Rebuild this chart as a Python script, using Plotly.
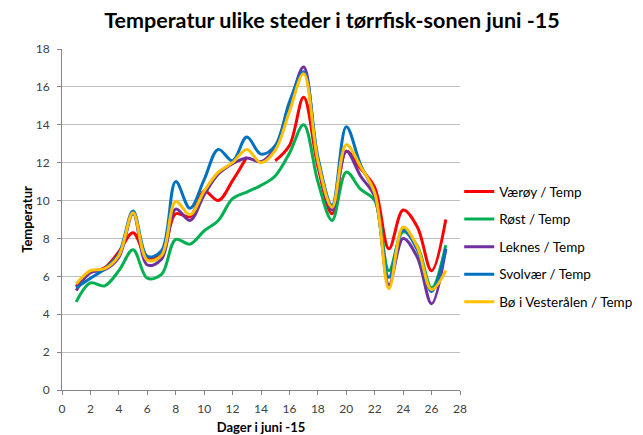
import plotly.graph_objects as go

days = list(range(1, 28))
vaeroy = [5.45, 6.2, 6.45, 7.3, 8.3, 7.0, 7.15, 9.3, 9.15, 10.5, 10.0, 11.05, 12.3, None,
          12.1, 12.9, 15.45, 11.8, 9.3, 12.6, 11.7, 10.7, 7.45, 9.5, 8.6, 6.3, 9.0]
rost = [4.65, 5.65, 5.5, 6.3, 7.4, 5.9, 6.1, 7.95, 7.7, 8.4, 8.95, 10.1, 10.45, 10.8,
        11.3, 12.5, 14.0, 11.0, 8.95, 11.5, 10.6, 10.0, 6.3, 8.35, 7.6, 5.4, 7.65]
leknes = [5.25, 6.2, 6.35, 7.0, 9.3, 6.6, 6.9, 9.55, 8.95, 10.3, 11.4, 11.95, 12.25, 12.05,
          12.8, 15.0, 17.05, 12.0, 9.5, 12.6, 11.3, 10.2, 5.55, 8.0, 7.0, 4.55, 7.45]
svolvaer = [5.4, 5.9, 6.4, 7.2, 9.45, 7.05, 7.35, 11.0, 9.6, 11.1, 12.7, 12.1, 13.35, 12.45,
            12.9, 15.2, 16.8, 12.3, 9.75, 13.9, 11.9, 10.35, 5.95, 8.45, 7.4, 5.2, 7.45]
bo = [5.6, 6.3, 6.4, 7.1, 9.35, 6.85, 7.1, 9.95, 9.25, 10.5, 11.5, 12.0, 12.7, 12.0,
      12.65, 14.7, 16.7, 12.1, 9.65, 12.95, 11.8, 10.4, 5.35, 8.6, 7.55, 5.3, 6.3]

series = [
    ("Værøy / Temp", vaeroy, "#FF0000"),
    ("Røst / Temp", rost, "#00B050"),
    ("Leknes / Temp", leknes, "#7030A0"),
    ("Svolvær / Temp", svolvaer, "#0070C0"),
    ("Bø i Vesterålen / Temp", bo, "#FFC000"),
]

FONT = "Lato"
W, H = 635, 427  # page has an 8px body margin

fig = go.Figure()
for i, (name, vals, col) in enumerate(series):
    fig.add_trace(go.Scatter(
        x=days, y=vals, name=name, mode="lines",
        line=dict(color=col, width=3, shape="spline", smoothing=1.0),
        connectgaps=False, legendgroup=f"g{i}",
    ))

fig.update_layout(
    width=W, height=H,
    margin=dict(l=54, r=183, t=41, b=45, autoexpand=False),
    paper_bgcolor="white", plot_bgcolor="white",
    font=dict(family=FONT, size=12, color="#404040"),
    title=dict(text="<b>Temperatur ulike steder i tørrfisk-sonen juni -15</b>",
               x=324/W, xanchor="center", y=1 - 12/H, yanchor="middle",
               font=dict(family=FONT, size=21.5, color="#000000")),
    showlegend=True,
    legend=dict(x=0.998, xanchor="left", y=0.42, yanchor="middle",
                traceorder="grouped", tracegroupgap=7,
                font=dict(family=FONT, size=13.5, color="#000000"),
                bgcolor="rgba(0,0,0,0)"),
    xaxis=dict(range=[0, 28], dtick=2, tick0=0, showgrid=False,
               showline=True, linecolor="#868686", linewidth=1,
               ticks="outside", ticklen=4, tickcolor="#868686",
               ticklabelstandoff=4,
               tickfont=dict(family=FONT, size=12, color="#404040"),
               title=dict(text="<b>Dager i juni -15</b>",
                          font=dict(family=FONT, size=13, color="#000000"),
                          standoff=10),
               automargin=False, zeroline=False),
    yaxis=dict(range=[0, 18], dtick=2, tick0=0, showgrid=True,
               gridcolor="#BFBFBF", gridwidth=1.3,
               showline=True, linecolor="#868686", linewidth=1,
               ticks="outside", ticklen=4, tickcolor="#868686",
               ticklabelstandoff=5,
               tickfont=dict(family=FONT, size=12, color="#404040"),
               title=dict(text="<b>Temperatur</b>",
                          font=dict(family=FONT, size=13, color="#000000"),
                          standoff=0),
               automargin=False, zeroline=False),
)

fig.write_html("out.html")
